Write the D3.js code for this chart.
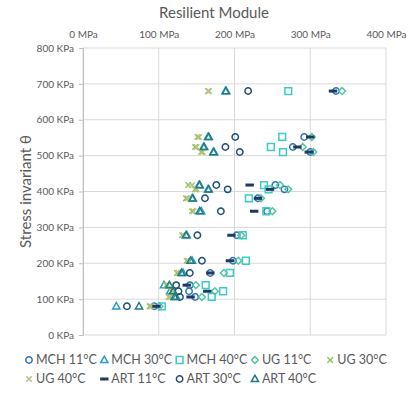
<!DOCTYPE html>
<html>
<head>
<meta charset="utf-8">
<script src="https://cdn.jsdelivr.net/npm/d3@7"></script>
<style>
  body { margin: 0; background: #fff; }
  svg { display: block; }
</style>
</head>
<body>
<div id="chart"></div>
<script>
// stress invariant θ (KPa) for the 15 load sequences
const theta = [80, 106, 122, 139, 173, 207, 278, 345, 418, 381, 406, 524, 510, 552, 680];

// resilient modulus (MPa) per series, same order as theta
const mch11 = [94, 148, 140, 141, 168, 198, 203, 243, 254, 231, 266, 277, 300, 292, 334];
const mch30 = [44, 123, 115, 107, 132, 144, 137, 156, 153, 144, 165, 159, 173, 165, 188];
const mch40 = [104, 170, 185, 162, 194, 215, 211, 242, 239, 219, 245, 248, 264, 263, 271];
const ug11  = [101, 157, 174, 149, 186, 205, 209, 250, 260, 235, 271, 290, 304, 302, 342];
const ug30  = [88, 115, 117, 110, 124, 137, 131, 144, 139, 136, 148, 148, 156, 153, 166];
const ug40  = [90, 113, 119, 112, 126, 139, 133, 146, 144, 138, 150, 150, 158, 151, 165];
const art11 = [97, 142, 164, 137, 168, 194, 196, 226, 220, 231, 247, 283, 298, 300, 330];
const art30 = [58, 128, 126, 123, 141, 157, 151, 182, 176, 161, 191, 188, 207, 201, 218];
const art40 = [74, 121, 119, 114, 130, 142, 136, 154, 154, 145, 166, 160, 172, 166, 189];

const seriesNames = ["MCH 11°C", "MCH 30°C", "MCH 40°C", "UG 11°C", "UG 30°C",
                     "UG 40°C", "ART 11°C", "ART 30°C", "ART 40°C"];
const seriesValues = [mch11, mch30, mch40, ug11, ug30, ug40, art11, art30, art40];
const seriesShapes = ["circle", "triangle", "square", "diamond", "cross",
                      "cross", "dash", "circle", "triangle"];
const seriesColors = ["#2E75B6", "#2A9BC8", "#3CCBCB", "#55C3A4", "#8DC85A",
                      "#BDBE86", "#1F3864", "#1F4E79", "#1E7D80"];

const xTicks = [0, 100, 200, 300, 400];
const yTicks = [0, 100, 200, 300, 400, 500, 600, 700, 800];

const width = 410, height = 399;
const margin = {top: 48, left: 83, right: 24, bottom: 64};
const textColor = "#595959";
const gridColor = "#d9d9d9";
const font = "Lato, 'Open Sans', sans-serif";

const x = d3.scaleLinear([0, 400], [margin.left, width - margin.right]);
const y = d3.scaleLinear([0, 800], [height - margin.bottom, margin.top]);

// marker path, centred on 0,0
function markerPath(shape) {
  const p = d3.path();
  if (shape === "circle") {
    p.arc(0, 0, 3.2, 0, 2 * Math.PI);
  } else if (shape === "triangle") {
    p.moveTo(0, -3.8); p.lineTo(3.6, 2.6); p.lineTo(-3.6, 2.6); p.closePath();
  } else if (shape === "square") {
    p.rect(-3.4, -3.4, 6.8, 6.8);
  } else if (shape === "diamond") {
    p.moveTo(0, -3.4); p.lineTo(3.4, 0); p.lineTo(0, 3.4); p.lineTo(-3.4, 0); p.closePath();
  } else if (shape === "cross") {
    p.moveTo(-2.8, -2.8); p.lineTo(2.8, 2.8);
    p.moveTo(2.8, -2.8); p.lineTo(-2.8, 2.8);
  }
  return p.toString();
}

function drawMarker(g, shape, color) {
  if (shape === "dash") {
    g.append("rect")
      .attr("x", -4.2).attr("y", -1.5)
      .attr("width", 8.4).attr("height", 3)
      .attr("fill", color);
  } else {
    g.append("path")
      .attr("d", markerPath(shape))
      .attr("fill", "none")
      .attr("stroke", color)
      .attr("stroke-width", 1.5);
  }
}

const svg = d3.select("#chart").append("svg")
  .attr("width", width)
  .attr("height", height)
  .attr("font-family", font);

// grid
svg.append("g")
  .selectAll("line")
  .data(xTicks)
  .join("line")
  .attr("x1", d => x(d)).attr("x2", d => x(d))
  .attr("y1", y(800)).attr("y2", y(0))
  .attr("stroke", gridColor);

svg.append("g")
  .selectAll("line")
  .data(yTicks)
  .join("line")
  .attr("x1", x(0)).attr("x2", x(400))
  .attr("y1", d => y(d)).attr("y2", d => y(d))
  .attr("stroke", gridColor);

// top x axis
svg.append("g")
  .attr("transform", `translate(0, ${margin.top})`)
  .call(d3.axisTop(x).tickValues(xTicks).tickSize(0).tickPadding(10).tickFormat(d => d + " MPa"))
  .call(g => g.select(".domain").remove())
  .selectAll("text")
  .attr("fill", textColor)
  .style("font-family", font)
  .style("font-size", "10px");

// left y axis
svg.append("g")
  .attr("transform", `translate(${margin.left}, 0)`)
  .call(d3.axisLeft(y).tickValues(yTicks).tickSize(4).tickPadding(5).tickFormat(d => d + " KPa"))
  .call(g => g.select(".domain").attr("stroke", "#bfbfbf"))
  .call(g => g.selectAll(".tick line").attr("stroke", "#bfbfbf"))
  .selectAll("text")
  .attr("fill", textColor)
  .style("font-family", font)
  .style("font-size", "10px");

// titles
svg.append("text")
  .attr("x", 214)
  .attr("y", 18)
  .attr("text-anchor", "middle")
  .attr("fill", textColor)
  .attr("font-size", 15)
  .text("Resilient Module");

svg.append("text")
  .attr("text-anchor", "middle")
  .attr("transform", `translate(31, ${y(400)}) rotate(-90)`)
  .attr("fill", textColor)
  .attr("font-size", 15)
  .text("Stress invariant θ");

// points
seriesValues.forEach((vals, i) => {
  const g = svg.append("g");
  g.selectAll("g")
    .data(vals.map((v, j) => ({mod: v, stress: theta[j]})))
    .join("g")
    .attr("transform", d => `translate(${x(d.mod)}, ${y(d.stress)})`)
    .each(function() { drawMarker(d3.select(this), seriesShapes[i], seriesColors[i]); });
});

// legend
const legend = svg.append("g")
  .selectAll("g")
  .data(seriesNames)
  .join("g")
  .attr("transform", (d, i) => `translate(${29 + (i % 5) * 75.3}, ${360 + Math.floor(i / 5) * 19})`);

legend.each(function(d, i) { drawMarker(d3.select(this), seriesShapes[i], seriesColors[i]); });

legend.append("text")
  .attr("x", 7)
  .attr("dy", "0.35em")
  .attr("fill", textColor)
  .attr("font-size", 12.5)
  .text(d => d);
</script>
</body>
</html>
